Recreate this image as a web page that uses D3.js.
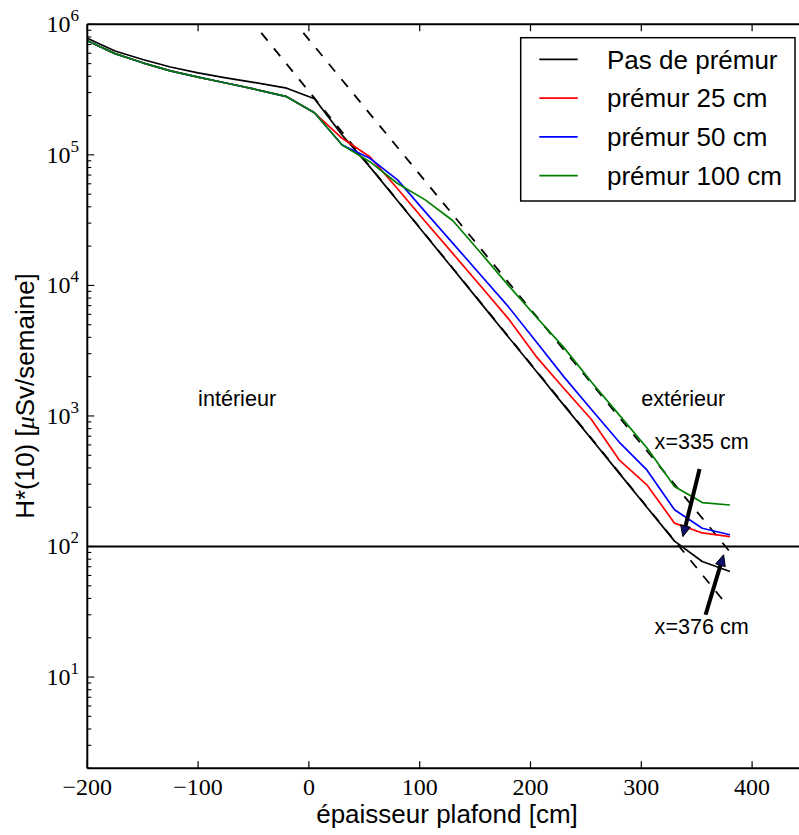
<!DOCTYPE html>
<html>
<head>
<meta charset="utf-8">
<script src="https://cdn.jsdelivr.net/npm/d3@7"></script>
<style>
  html, body { margin: 0; padding: 0; background: #fff; }
  svg { display: block; }
</style>
</head>
<body>
<svg id="chart" width="799" height="835"></svg>
<script>
// ---------------- data ----------------
const thickness = [-200,-175,-150,-125,-100,-75,-50,-20,5,30,55,80,105,130,155,180,205,230,255,280,305,330,355,380];
const noPremur = [7.82e5,6.24e5,5.37e5,4.71e5,4.25e5,3.89e5,3.59e5,3.24e5,2.69e5,1.42e5,8.09e4,4.45e4,2.44e4,1.34e4,7350,4030,2210,1210,665,365,200,110,76.7,64.4];
const premur25 = [7.48e5,5.96e5,5.07e5,4.40e5,3.94e5,3.55e5,3.20e5,2.79e5,2.10e5,1.34e5,9.68e4,5.50e4,3.09e4,1.75e4,9890,5570,2860,1630,940,461,297,151,127,119];
const premur50 = [7.48e5,5.96e5,5.07e5,4.40e5,3.94e5,3.55e5,3.20e5,2.79e5,2.10e5,1.19e5,9.42e4,6.43e4,3.66e4,2.10e4,1.20e4,6870,3720,2000,1120,631,386,191,138,123];
const premur100 = [7.48e5,5.96e5,5.07e5,4.40e5,3.94e5,3.55e5,3.20e5,2.79e5,2.10e5,1.19e5,8.87e4,6.03e4,4.52e4,3.13e4,1.78e4,1.0e4,5750,3350,1820,1020,570,288,217,208];

const seriesNames = ["Pas de prémur","prémur 25 cm","prémur 50 cm","prémur 100 cm"];
const seriesColors = ["#000000","#ff0000","#0000ff","#008000"];
const seriesValues = [noPremur, premur25, premur50, premur100];

// dashed exponential fits (endpoints)
const fitA = [[-43, 8.6e5],[378, 35]];
const fitB = [[-5, 8.6e5],[380, 91]];
const limitValue = 100;

const xTicks = [-200,-100,0,100,200,300,400];
const yTicks = [1e1,1e2,1e3,1e4,1e5,1e6];
const yExponents = ["1","2","3","4","5","6"];

const labels = [
  {text:"intérieur", x:-100, y:1190},
  {text:"extérieur", x:300, y:1190},
  {text:"x=335 cm", x:312, y:563},
  {text:"x=376 cm", x:312, y:21.5}
];
const arrows = [
  {from:[352.6,392], to:[337.5,119]},
  {from:[358,30], to:[374.3,86.5]}
];

// ---------------- layout ----------------
const svg = d3.select("#chart");
const L = 87.3, T = 24.3, B = 768.3;
const x = d3.scaleLinear().domain([-200,450]).range([L, 807.5]);
const y = d3.scaleLog().domain([2,1e6]).range([B, T]);

svg.append("defs").append("clipPath").attr("id","clip")
  .append("rect").attr("x",L).attr("y",T).attr("width",807.5-L).attr("height",B-T);

const plot = svg.append("g").attr("clip-path","url(#clip)");

// horizontal limit line
plot.append("line")
  .attr("x1",L).attr("x2",807.5)
  .attr("y1",y(limitValue)).attr("y2",y(limitValue))
  .attr("stroke","#000").attr("stroke-width",2);

const line = d3.line().x(d=>x(d[0])).y(d=>y(d[1]));

// dashed fits
[fitA, fitB].forEach(f=>{
  plot.append("path").attr("d", line(f))
    .attr("fill","none").attr("stroke","#000")
    .attr("stroke-width",1.8).attr("stroke-dasharray","10,10");
});

// series (draw black first, then colors)
seriesValues.forEach((vals,i)=>{
  const pts = thickness.map((t,j)=>[t, vals[j]]);
  plot.append("path").attr("d", line(pts))
    .attr("fill","none").attr("stroke",seriesColors[i])
    .attr("stroke-width",1.7).attr("stroke-linejoin","round");
});

// ---------------- axes ----------------
const ax = svg.append("g");
// spines
ax.append("line").attr("x1",L).attr("x2",L).attr("y1",T).attr("y2",B).attr("stroke","#000").attr("stroke-width",2);
ax.append("line").attr("x1",L).attr("x2",807.5).attr("y1",B).attr("y2",B).attr("stroke","#000").attr("stroke-width",2);
ax.append("line").attr("x1",L).attr("x2",807.5).attr("y1",T).attr("y2",T).attr("stroke","#000").attr("stroke-width",2);

// x ticks (bottom & top, inward)
xTicks.forEach(v=>{
  const px = x(v);
  ax.append("line").attr("x1",px).attr("x2",px).attr("y1",B).attr("y2",B-7).attr("stroke","#000").attr("stroke-width",1.2);
  ax.append("line").attr("x1",px).attr("x2",px).attr("y1",T).attr("y2",T+7).attr("stroke","#000").attr("stroke-width",1.2);
  ax.append("text").attr("x",px).attr("y",B+27)
    .attr("text-anchor","middle")
    .attr("font-family","'Liberation Serif', 'DejaVu Serif', serif")
    .attr("font-size",24)
    .text(v<0 ? "\u2212"+Math.abs(v) : String(v));
});

// y ticks
const [y0,y1] = y.domain();
for (let e = Math.floor(Math.log10(y0)); e <= Math.ceil(Math.log10(y1)); e++) {
  for (let k = 1; k <= 9; k++) {
    const v = k*Math.pow(10,e);
    if (v < y0 || v > y1) continue;
    const py = y(v);
    const len = k===1 ? 7 : 4;
    ax.append("line").attr("x1",L).attr("x2",L+len).attr("y1",py).attr("y2",py).attr("stroke","#000").attr("stroke-width",1.1);
  }
}
yTicks.forEach((v,i)=>{
  const py = y(v);
  const t = ax.append("text").attr("x",79).attr("y",py+8)
    .attr("text-anchor","end")
    .attr("font-family","'Liberation Serif', 'DejaVu Serif', serif")
    .attr("font-size",24);
  t.append("tspan").text("10");
  t.append("tspan").attr("dy",-11).attr("font-size",17).text(yExponents[i]);
});

// axis labels
svg.append("text").attr("x",447).attr("y",823)
  .attr("text-anchor","middle")
  .attr("font-family","'Liberation Sans', Arial, sans-serif")
  .attr("font-size",26)
  .text("épaisseur plafond [cm]");

const yl = svg.append("text")
  .attr("transform","translate(34,396) rotate(-90)")
  .attr("text-anchor","middle")
  .attr("font-family","'Liberation Sans', Arial, sans-serif")
  .attr("font-size",26);
yl.append("tspan").text("H*(10) [");
yl.append("tspan").attr("font-family","'Liberation Serif', serif").attr("font-style","italic").text("μ");
yl.append("tspan").text("Sv/semaine]");

// annotations
labels.forEach(l=>{
  svg.append("text").attr("x",x(l.x)).attr("y",y(l.y))
    .attr("font-family","'Liberation Sans', Arial, sans-serif")
    .attr("font-size",21.6)
    .text(l.text);
});

arrows.forEach(a=>{
  const x1 = x(a.from[0]), y1p = y(a.from[1]);
  const x2 = x(a.to[0]), y2p = y(a.to[1]);
  const dx = x2-x1, dy = y2p-y1p, len = Math.hypot(dx,dy);
  const ux = dx/len, uy = dy/len;
  const hl = 11, hw = 5;
  const bx = x2 - ux*hl, by = y2p - uy*hl;
  svg.append("line").attr("x1",x1).attr("y1",y1p).attr("x2",bx+ux*2).attr("y2",by+uy*2)
    .attr("stroke","#000").attr("stroke-width",4);
  const px = -uy, py = ux;
  svg.append("path")
    .attr("d",`M${x2},${y2p}L${bx+px*hw},${by+py*hw}L${bx-px*hw},${by-py*hw}Z`)
    .attr("fill","#10106e").attr("stroke","#000").attr("stroke-width",1);
});

// legend
const lg = svg.append("g");
lg.append("rect").attr("x",520.7).attr("y",37.7).attr("width",274.3).attr("height",163.3)
  .attr("fill","#fff").attr("stroke","#000").attr("stroke-width",1.5);
seriesNames.forEach((n,i)=>{
  const ry = 59.3 + i*38.8;
  lg.append("line").attr("x1",539.3).attr("x2",577.7).attr("y1",ry).attr("y2",ry)
    .attr("stroke",seriesColors[i]).attr("stroke-width",1.7);
  lg.append("text").attr("x",607).attr("y",ry+9.3)
    .attr("font-family","'Liberation Sans', Arial, sans-serif")
    .attr("font-size",26)
    .text(n);
});
</script>
</body>
</html>
